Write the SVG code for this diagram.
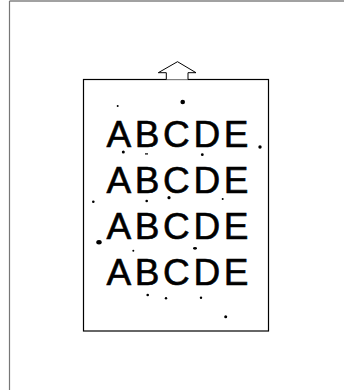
<svg xmlns="http://www.w3.org/2000/svg" width="344" height="390" viewBox="0 0 344 390">
<style>
.frame{fill:none;stroke-width:1.2}
.page{fill:#fff;stroke:#000;stroke-width:1.2}
.arrow{fill:#fff;stroke:#000;stroke-width:1}
.txt{font-family:"Liberation Sans",Arial,sans-serif;font-size:37px;letter-spacing:3.6px;fill:#000;stroke:#000;stroke-width:0.6}
.dot{fill:#000}
</style>
<rect width="344" height="390" fill="#fff"/>
<g id="frame">
<line x1="9.5" y1="1" x2="344" y2="1" stroke="#444" class="frame"/>
<line x1="9.5" y1="1" x2="9.5" y2="390" stroke="#777" class="frame"/>
</g>
<g id="page">
<rect x="83.5" y="79.5" width="185" height="251.5" class="page"/>
</g>
<g id="arrow">
<path d="M166.3 79.5 V72.7 H158.3 L177.5 61.7 L196 72.7 H188 V79.5" class="arrow"/>
</g>
<g id="text">
<text x="106.5" y="146.7" class="txt">ABCDE</text>
<text x="106.5" y="192.7" class="txt">ABCDE</text>
<text x="106.5" y="239" class="txt">ABCDE</text>
<text x="106.5" y="285" class="txt">ABCDE</text>
</g>
<g id="dots">
<circle cx="117.7" cy="106" r="1" class="dot"/>
<circle cx="182.7" cy="102" r="2.3" class="dot"/>
<circle cx="260" cy="147" r="1.7" class="dot"/>
<circle cx="123.3" cy="152" r="1.5" class="dot"/>
<rect x="145" y="153.3" width="3" height="1.2" class="dot"/>
<circle cx="202.3" cy="154.7" r="1.4" class="dot"/>
<circle cx="93.3" cy="201.7" r="1.3" class="dot"/>
<circle cx="146.7" cy="201" r="1.3" class="dot"/>
<circle cx="169" cy="197.7" r="1.6" class="dot"/>
<circle cx="222.7" cy="199" r="1" class="dot"/>
<ellipse cx="99" cy="242.3" rx="2.7" ry="2.2" class="dot"/>
<circle cx="133.3" cy="250.7" r="1" class="dot"/>
<ellipse cx="195" cy="248.3" rx="2" ry="1.4" class="dot"/>
<circle cx="147.7" cy="295" r="1.3" class="dot"/>
<circle cx="166" cy="298.3" r="1.2" class="dot"/>
<circle cx="201" cy="297.7" r="1.2" class="dot"/>
<circle cx="225.7" cy="316.7" r="1.5" class="dot"/>
</g>
</svg>
